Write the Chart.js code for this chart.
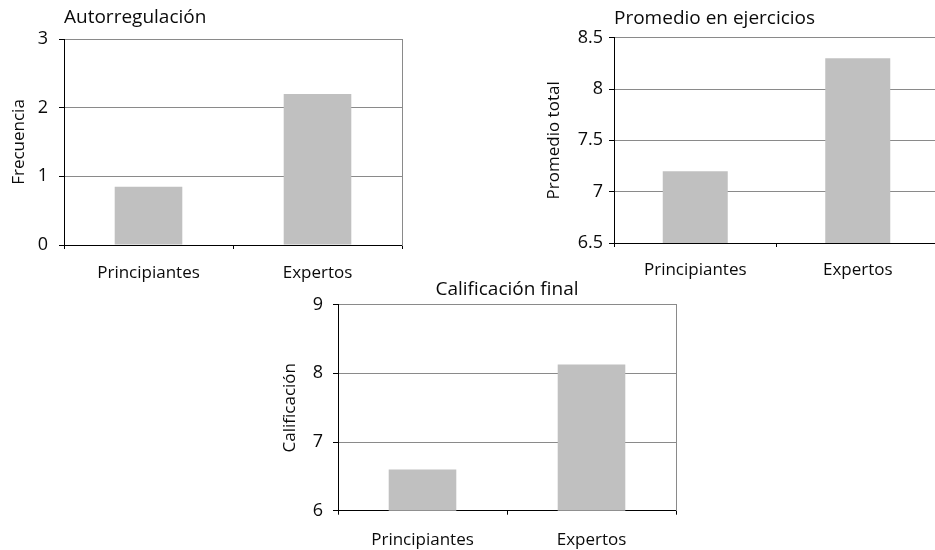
<!DOCTYPE html>
<html lang="es">
<head>
<meta charset="utf-8">
<title>Autorregulación, promedio y calificación</title>
<script src="https://cdn.jsdelivr.net/npm/chart.js@4"></script>
<style>
  html, body { margin: 0; padding: 0; background: #fff; overflow: hidden; width: 935px; height: 550px; }
  .panel { position: absolute; }
</style>
</head>
<body>
<div class="panel" style="left:0px;top:0px;width:420px;height:285px"><canvas id="c1"></canvas></div>
<div class="panel" style="left:540px;top:0px;width:420px;height:285px"><canvas id="c2"></canvas></div>
<div class="panel" style="left:270px;top:276px;width:420px;height:274px"><canvas id="c3"></canvas></div>
<script>
// Groups compared in every panel
const categories = ['Principiantes', 'Expertos'];

// Autorregulación: frecuencia media
const autorregulacion = [0.85, 2.2];
const autorregulacionAxis = [0, 3, 1];          // min, max, step

// Promedio en ejercicios: promedio total
const promedioEjercicios = [7.2, 8.3];
const promedioAxis = [6.5, 8.5, 0.5];

// Calificación final
const calificacionFinal = [6.6, 8.13];
const calificacionAxis = [6, 9, 1];

const FONT = '"Open Sans", "Noto Sans", "DejaVu Sans", sans-serif';
const TEXT = '#0a0a0a';
const BAR = '#c0c0c0';
const GRID = '#8a8a8a';

function panel(id, title, yTitle, values, axis, lay) {
  return new Chart(document.getElementById(id), {
    type: 'bar',
    data: {
      labels: categories,
      datasets: [{
        data: values,
        backgroundColor: BAR,
        borderWidth: 0,
        categoryPercentage: 1,
        barPercentage: 0.4
      }]
    },
    options: {
      responsive: true,
      maintainAspectRatio: false,
      animation: false,
      events: [],
      layout: { padding: { left: 0, top: 0, bottom: 0, right: lay.right } },
      plugins: {
        legend: { display: false },
        tooltip: { enabled: false },
        title: {
          display: true,
          text: title,
          align: lay.titleAlign,
          fullSize: false,
          color: TEXT,
          font: { family: FONT, size: 19, weight: 'normal' },
          padding: { top: lay.titleTop, bottom: lay.titleBottom }
        }
      },
      scales: {
        x: {
          offset: true,
          grid: { drawOnChartArea: false, drawTicks: true, tickLength: 4, tickColor: '#000' },
          border: { display: true, color: '#000', width: 1 },
          ticks: { color: TEXT, padding: lay.xPad, maxRotation: 0, font: { family: FONT, size: 17 } },
          afterFit: s => { s.height = lay.xHeight; }
        },
        y: {
          min: axis[0],
          max: axis[1],
          ticks: {
            stepSize: axis[2],
            color: TEXT,
            padding: lay.yPad,
            font: { family: FONT, size: 18 },
            callback: v => String(v)
          },
          grid: { color: GRID, lineWidth: 1, drawTicks: true, tickLength: 5, tickColor: '#000' },
          border: { display: true, color: '#000', width: 1 },
          title: {
            display: true,
            text: yTitle,
            color: TEXT,
            font: { family: FONT, size: 17, weight: 'normal' },
            padding: { top: lay.yTitlePad, bottom: 0 }
          },
          afterFit: s => { s.width = lay.yWidth; }
        },
        frame: {
          position: 'right',
          axis: 'y',
          display: true,
          ticks: { display: false },
          grid: { drawOnChartArea: false, drawTicks: false },
          border: { display: true, color: GRID, width: 1 },
          afterFit: s => { s.width = 0; }
        }
      }
    }
  });
}

panel('c1', 'Autorregulación', 'Frecuencia', autorregulacion, autorregulacionAxis, {
  right: 18, titleAlign: 'start', titleTop: 6, titleBottom: 10.2,
  xHeight: 40, xPad: 14, yWidth: 64, yPad: 11, yTitlePad: 9
});

panel('c2', 'Promedio en ejercicios', 'Promedio total', promedioEjercicios, promedioAxis, {
  right: 21, titleAlign: 'start', titleTop: 7, titleBottom: 7.9,
  xHeight: 42, xPad: 13, yWidth: 74, yPad: 6, yTitlePad: 4
});

panel('c3', 'Calificación final', 'Calificación', calificacionFinal, calificacionAxis, {
  right: 14, titleAlign: 'center', titleTop: 2.2, titleBottom: 3.7,
  xHeight: 39.3, xPad: 15, yWidth: 68, yPad: 10, yTitlePad: 10
});
</script>
</body>
</html>
